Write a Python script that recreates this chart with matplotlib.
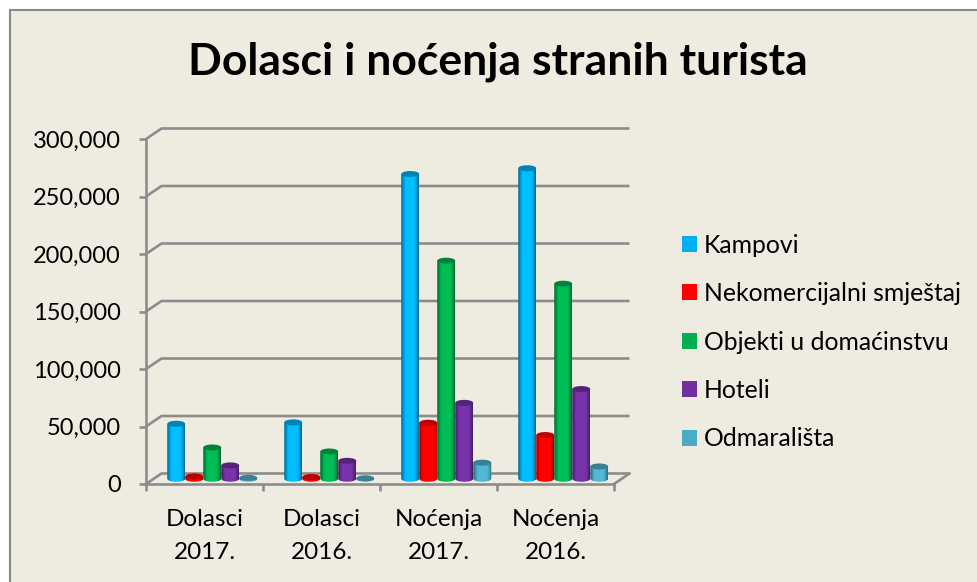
import numpy as np
import matplotlib
matplotlib.use('Agg')
import matplotlib.pyplot as plt
from matplotlib.patches import Ellipse, Polygon, Patch, Rectangle

plt.rcParams['font.family'] = ['Lato', 'DejaVu Sans']

categories = ['Dolasci\n2017.', 'Dolasci\n2016.', 'Noćenja\n2017.', 'Noćenja\n2016.']
kampovi = [47800, 49000, 265000, 270000]
nekomercijalni = [2000, 1500, 48700, 38000]
objekti = [27200, 23700, 189600, 169600]
hoteli = [11600, 15600, 66000, 78000]
odmaralista = [800, 400, 14000, 10700]

series_names = ['Kampovi', 'Nekomercijalni smještaj', 'Objekti u domaćinstvu', 'Hoteli', 'Odmarališta']
series_values = [kampovi, nekomercijalni, objekti, hoteli, odmaralista]
series_colors = ['#00B0F0', '#FF0000', '#00B050', '#7030A0', '#4BACC6']
y_ticks = [0, 50000, 100000, 150000, 200000, 250000, 300000]

BG = '#EEECE1'
LINE = '#8C8C8C'
W, H = 978, 582

fig = plt.figure(figsize=(W / 100, H / 100), dpi=100, facecolor='white')
fig.add_artist(Rectangle((9.5 / W, -0.01), 1.01, 1.01 - 9.5 / H, transform=fig.transFigure,
                         facecolor=BG, edgecolor='#888888', linewidth=1.5, zorder=-1))

# front of the chart floor: x 146-614, y 484 (zero) to 139 (300,000)
ax = fig.add_axes([146 / W, 1 - 484 / H, 468 / W, 345 / H])
ax.patch.set_visible(False)

# depth of the fake 3D box, in data units
dx = 15.5 / 117
dy = 10.5 / 345 * 300000

for v in y_ticks:
    ax.plot([0, dx, 4 + dx], [v, v + dy, v + dy], color=LINE, lw=1.9, clip_on=False, zorder=1,
            solid_capstyle='butt', solid_joinstyle='miter')
ax.plot([4, 4 + dx], [0, dy], color=LINE, lw=1.9, clip_on=False, zorder=1)

# cylinders: horizontal shading clipped to a rounded bottom
shade = np.interp(np.linspace(0, 1, 40), [0, 0.1, 0.25, 0.75, 0.9, 1], [0.6, 0.8, 1.08, 1.08, 0.85, 0.6])
bar_w = 18 / 117
ell = 3.0 / 345 * 300000
zo = 3
for g in range(len(categories)):
    for s, name in enumerate(series_names):
        val = series_values[s][g]
        c = np.array(matplotlib.colors.to_rgb(series_colors[s]))
        cx = g + 0.5 + dx / 2 + (s - 2) * bar_w
        base = dy / 2
        top = base + val
        img = np.clip(shade[:, None] * c, 0, 1)[None, :, :]
        left, right = cx - bar_w / 2, cx + bar_w / 2
        im = ax.imshow(img, extent=[left, right, base - ell, top], aspect='auto',
                       interpolation='bilinear', zorder=zo, clip_on=True)
        t = np.linspace(np.pi, 2 * np.pi, 30)
        outline = np.column_stack([cx + bar_w / 2 * np.cos(t), base + ell * np.sin(t)])
        outline = np.vstack([[left, top], outline, [right, top]])
        clip = Polygon(outline, closed=True, transform=ax.transData)
        im.set_clip_path(clip)
        ax.add_patch(Ellipse((cx, top), bar_w, 2 * ell, facecolor=c * 0.75, edgecolor='none',
                             zorder=zo + 1, clip_on=False))
        zo += 2

ax.set_xlim(0, 4)
ax.set_ylim(0, 300000)
ax.set_yticks(y_ticks)
ax.set_yticklabels([f'{v:,}' for v in y_ticks])
ax.set_xticks(range(5))
ax.set_xticklabels([])
ax.set_xticks(np.arange(4) + 0.5, labels=categories, minor=True, linespacing=1.7)
for sp in ['top', 'right']:
    ax.spines[sp].set_visible(False)
for sp in ['left', 'bottom']:
    ax.spines[sp].set_color(LINE)
    ax.spines[sp].set_linewidth(1.9)
    ax.spines[sp].set_zorder(2)
ax.tick_params(axis='y', length=5, width=1.9, color=LINE, pad=13, labelsize=17)
ax.tick_params(axis='x', which='major', length=5, width=1.9, color=LINE)
ax.tick_params(axis='x', which='minor', length=0, pad=18, labelsize=17.5)

handles = [Patch(facecolor=c, edgecolor='none') for c in series_colors]
fig.legend(handles, series_names, loc='center left', bbox_to_anchor=(660 / W, 1 - 342 / H),
           frameon=False, fontsize=17.8, handlelength=0.6, handleheight=0.6, handletextpad=0.28,
           labelspacing=1.03)

fig.text(498 / W, 1 - 62 / H, 'Dolasci i noćenja stranih turista', ha='center', va='center',
         fontsize=32, fontweight='bold', color='black')

fig.savefig('out.png', dpi=100, facecolor=fig.get_facecolor())
